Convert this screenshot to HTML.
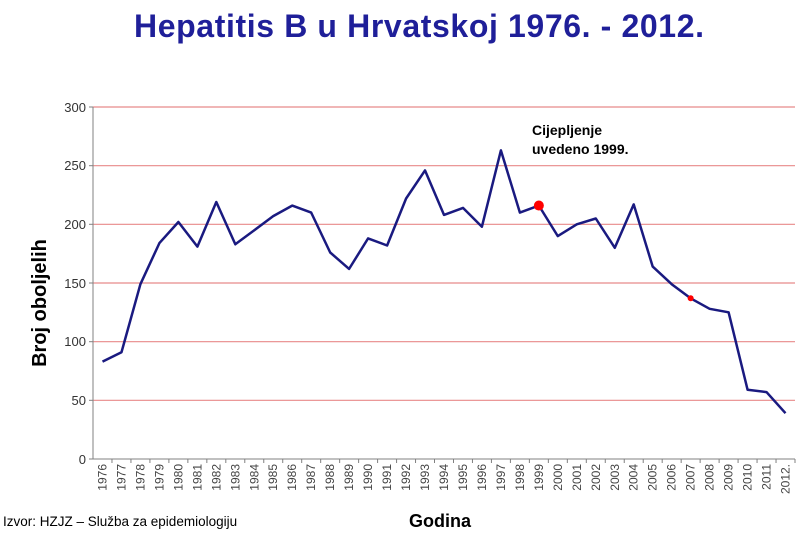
<!DOCTYPE html>
<html><head><meta charset="utf-8"><style>
body{margin:0;background:#fff;width:800px;height:534px;overflow:hidden;font-family:"Liberation Sans",sans-serif}
</style></head><body>
<svg width="800" height="534" xmlns="http://www.w3.org/2000/svg" font-family="Liberation Sans, sans-serif">
<text x="419" y="37" text-anchor="middle" font-size="32" font-weight="bold" fill="#1f1f99" textLength="570">Hepatitis B u Hrvatskoj 1976. - 2012.</text>
<g stroke="#e88a8a" stroke-width="1.2">
<line x1="93" y1="107" x2="795" y2="107"/><line x1="93" y1="165.7" x2="795" y2="165.7"/>
<line x1="93" y1="224.3" x2="795" y2="224.3"/><line x1="93" y1="283" x2="795" y2="283"/>
<line x1="93" y1="341.7" x2="795" y2="341.7"/><line x1="93" y1="400.3" x2="795" y2="400.3"/>
</g>
<g stroke="#808080" stroke-width="1">
<line x1="93" y1="107" x2="93" y2="459"/><line x1="93" y1="459" x2="795" y2="459"/>
<line x1="89" y1="107" x2="93" y2="107"/><line x1="89" y1="165.7" x2="93" y2="165.7"/><line x1="89" y1="224.3" x2="93" y2="224.3"/><line x1="89" y1="283" x2="93" y2="283"/><line x1="89" y1="341.7" x2="93" y2="341.7"/><line x1="89" y1="400.3" x2="93" y2="400.3"/><line x1="89" y1="459" x2="93" y2="459"/>
</g>
<g font-size="13" fill="#333" text-anchor="end">
<text x="86" y="112">300</text><text x="86" y="170">250</text><text x="86" y="229">200</text><text x="86" y="288">150</text><text x="86" y="346">100</text><text x="86" y="405">50</text><text x="86" y="464">0</text>
</g>
<text transform="translate(46,303) rotate(-90)" text-anchor="middle" font-size="20" font-weight="bold" fill="#000">Broj oboljelih</text>
<g id="xt" font-size="12" fill="#444"></g>
<g id="tk" stroke="#808080"></g>
<polyline id="ln" fill="none" stroke="#1a1a80" stroke-width="2.5" stroke-linejoin="round"/>
<circle id="c1" r="5" fill="#ff0000"/><circle id="c2" r="3" fill="#ff0000"/>
<text x="532" y="135" font-size="14" font-weight="bold">Cijepljenje</text>
<text x="532" y="154" font-size="14" font-weight="bold">uvedeno 1999.</text>
<text x="440" y="527" text-anchor="middle" font-size="18" font-weight="bold">Godina</text>
<text x="3" y="526" font-size="13.5">Izvor: HZJZ – Služba za epidemiologiju</text>
</svg>
<script>
var d=[83,91,149,184,202,181,219,183,195,207,216,210,176,162,188,182,222,246,208,214,198,263,210,216,190,200,205,180,217,164,149,137,128,125,59,57,39];
var w=702/37,pts=[],xt='',tk='';
for(var i=0;i<37;i++){var x=93+w*(i+.5),y=459-d[i]*352/300;pts.push(x.toFixed(1)+','+y.toFixed(1));
xt+='<text transform="translate('+(x+4)+',464) rotate(-90)" text-anchor="end">'+(1976+i)+(i==36?'.':'')+'</text>';
tk+='<line x1="'+(93+w*(i+1))+'" y1="459" x2="'+(93+w*(i+1))+'" y2="463"/>';
if(i==23){c1.setAttribute('cx',x);c1.setAttribute('cy',y)}if(i==31){c2.setAttribute('cx',x);c2.setAttribute('cy',y)}}
document.getElementById('ln').setAttribute('points',pts.join(' '));
document.getElementById('xt').innerHTML=xt;document.getElementById('tk').innerHTML=tk;
</script>
</body></html>
